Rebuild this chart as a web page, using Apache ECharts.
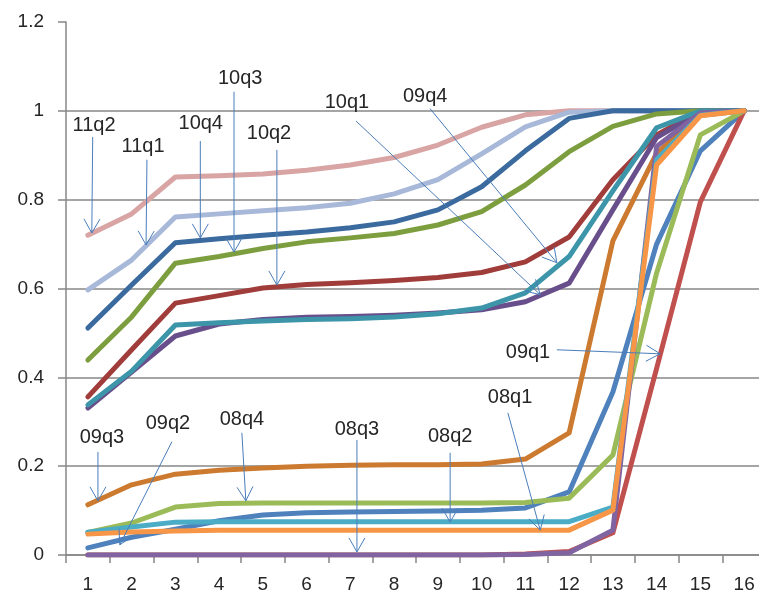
<!DOCTYPE html>
<html><head><meta charset="utf-8">
<script src="https://cdn.jsdelivr.net/npm/echarts@6/dist/echarts.min.js"></script>
<style>html,body{margin:0;padding:0;background:#fff;overflow:hidden;width:759px;height:599px}#c{width:766px;height:599px}</style>
</head><body><div id="c"></div>
<script>
const categories = ['1','2','3','4','5','6','7','8','9','10','11','12','13','14','15','16'];
const yMin = 0, yMax = 1.2, yStep = 0.2;

const s11q2 = [0.72, 0.768, 0.851, 0.854, 0.858, 0.866, 0.878, 0.895, 0.923, 0.963, 0.991, 1.0, 1, 1, 1, 1];
const s11q1 = [0.597, 0.664, 0.761, 0.768, 0.775, 0.782, 0.792, 0.813, 0.845, 0.903, 0.964, 0.997, 1, 1, 1, 1];
const s10q4 = [0.511, 0.608, 0.703, 0.712, 0.72, 0.727, 0.737, 0.75, 0.777, 0.829, 0.91, 0.983, 1, 1, 1, 1];
const s10q3 = [0.439, 0.536, 0.657, 0.672, 0.69, 0.705, 0.714, 0.724, 0.743, 0.773, 0.833, 0.908, 0.965, 0.993, 1, 1];
const s10q2 = [0.356, 0.462, 0.567, 0.584, 0.601, 0.609, 0.613, 0.618, 0.625, 0.636, 0.66, 0.716, 0.845, 0.946, 1, 1];
const s10q1 = [0.331, 0.412, 0.493, 0.52, 0.53, 0.535, 0.537, 0.54, 0.545, 0.552, 0.57, 0.612, 0.777, 0.94, 0.998, 1];
const s09q4 = [0.338, 0.414, 0.518, 0.523, 0.527, 0.53, 0.532, 0.536, 0.543, 0.556, 0.59, 0.672, 0.82, 0.962, 1, 1];
const s09q3 = [0.113, 0.158, 0.182, 0.191, 0.196, 0.2, 0.202, 0.203, 0.203, 0.205, 0.216, 0.275, 0.707, 0.905, 0.99, 1];
const s09q2 = [0.016, 0.04, 0.058, 0.077, 0.09, 0.095, 0.097, 0.098, 0.099, 0.101, 0.106, 0.142, 0.367, 0.70, 0.91, 1];
const s09q1 = [0, 0, 0, 0, 0, 0, 0, 0, 0, 0, 0.002, 0.008, 0.05, 0.42, 0.795, 1];
const s08q4 = [0.051, 0.072, 0.108, 0.116, 0.117, 0.117, 0.117, 0.117, 0.117, 0.117, 0.118, 0.128, 0.225, 0.635, 0.946, 1];
const s08q3 = [0, 0, 0, 0, 0, 0, 0, 0, 0, 0, 0.001, 0.005, 0.056, 0.92, 0.995, 1];
const s08q2 = [0.051, 0.063, 0.074, 0.075, 0.075, 0.075, 0.075, 0.075, 0.075, 0.075, 0.075, 0.075, 0.108, 0.89, 0.99, 1];
const s08q1 = [0.047, 0.052, 0.054, 0.056, 0.056, 0.056, 0.056, 0.056, 0.056, 0.056, 0.056, 0.056, 0.101, 0.878, 0.989, 1];

const seriesNames = ['11q2','11q1','10q4','10q3','10q2','10q1','09q4','09q3','09q2','09q1','08q4','08q3','08q2','08q1'];
const seriesData = [s11q2, s11q1, s10q4, s10q3, s10q2, s10q1, s09q4, s09q3, s09q2, s09q1, s08q4, s08q3, s08q2, s08q1];
const seriesColors = ['#D9A4A4','#A8B8D8','#3B6A9E','#7D9E3F','#A03C3A','#684F8C','#3C95A8','#CC7A30','#4F81BD','#C0504D','#9BBB59','#8064A2','#4BACC6','#F79646'];

// annotations: label, text position [categoryIndex, value], arrow start, arrow tip
const annotLabels = ['11q2','11q1','10q4','10q3','10q2','10q1','09q4','09q1','08q1','08q2','08q3','08q4','09q2','09q3'];
const annotText = [[0.14,0.968],[1.26,0.919],[2.58,0.971],[3.48,1.072],[4.14,0.950],[5.92,1.018],[7.71,1.032],[10.06,0.455],[9.65,0.354],[8.28,0.266],[6.15,0.282],[3.52,0.304],[1.83,0.297],[0.32,0.264]];
const annotFrom = [[0.11,0.941],[1.35,0.890],[2.57,0.932],[3.34,1.043],[4.32,0.912],[6.13,0.977],[7.82,1.005],[10.72,0.462],[9.60,0.320],[8.28,0.230],[6.15,0.259],[3.52,0.275],[1.92,0.255],[0.23,0.232]];
const annotTo = [[0.09,0.725],[1.33,0.698],[2.57,0.714],[3.34,0.682],[4.32,0.608],[10.34,0.586],[10.72,0.658],[13.08,0.453],[10.34,0.056],[8.28,0.074],[6.15,0.007],[3.61,0.122],[0.73,0.023],[0.23,0.122]];

const FONT = '"Liberation Sans", Arial, sans-serif';
const GRIDC = '#878787';
const chart = echarts.init(document.getElementById('c'));
const option = {
  animation: false,
  backgroundColor: '#fff',
  grid: { left: 66, top: 22, bottom: 44, right: 0, containLabel: false },
  xAxis: {
    type: 'category', data: categories, boundaryGap: true,
    axisLine: { lineStyle: { color: GRIDC, width: 1.5 } },
    axisTick: { show: true, length: 8, lineStyle: { color: GRIDC, width: 1.5 } },
    axisLabel: { color: '#262626', fontSize: 19, fontFamily: FONT, margin: 20, interval: 0 },
    splitLine: { show: false }
  },
  yAxis: {
    type: 'value', min: yMin, max: yMax, interval: yStep,
    axisLine: { show: true, lineStyle: { color: GRIDC, width: 1.5 } },
    axisTick: { show: true, length: 8, lineStyle: { color: GRIDC, width: 1.5 } },
    axisLabel: { color: '#262626', fontSize: 19, fontFamily: FONT, margin: 22 },
    splitLine: { show: true, lineStyle: { color: [GRIDC, GRIDC, GRIDC, GRIDC, GRIDC, GRIDC, 'transparent'], width: 1.5 } }
  },
  series: seriesNames.map((n, i) => ({
    name: n, type: 'line', data: seriesData[i], showSymbol: false, symbol: 'none',
    lineStyle: { color: seriesColors[i], width: 5, cap: 'round', join: 'round' },
    itemStyle: { color: seriesColors[i] }
  }))
};
chart.setOption(option);

function toPx(p) {
  const x0 = chart.convertToPixel({ xAxisIndex: 0 }, 0);
  const x1 = chart.convertToPixel({ xAxisIndex: 0 }, 1);
  const y = chart.convertToPixel({ yAxisIndex: 0 }, p[1]);
  return [x0 + p[0] * (x1 - x0), y];
}
const elements = [];
const AC = '#4A7EBB';
annotLabels.forEach((lab, i) => {
  const t = toPx(annotText[i]);
  const s = toPx(annotFrom[i]);
  const e = toPx(annotTo[i]);
  const dx = e[0] - s[0], dy = e[1] - s[1];
  const len = Math.sqrt(dx * dx + dy * dy);
  const ux = dx / len, uy = dy / len;
  const nx = -uy, ny = ux;
  const L = 14, W = 8;
  elements.push({ type: 'line', shape: { x1: s[0], y1: s[1], x2: e[0], y2: e[1] }, style: { stroke: AC, lineWidth: 1 }, z: 100 });
  elements.push({ type: 'polyline', shape: { points: [[e[0] - L * ux + W * nx, e[1] - L * uy + W * ny], e, [e[0] - L * ux - W * nx, e[1] - L * uy - W * ny]] }, style: { stroke: AC, lineWidth: 1, fill: null }, z: 100 });
  elements.push({ type: 'text', x: t[0], y: t[1], style: { text: lab, fill: '#262626', font: '20px ' + FONT, align: 'center', verticalAlign: 'middle' }, z: 101 });
});
chart.setOption({ graphic: { elements } });
</script></body></html>
